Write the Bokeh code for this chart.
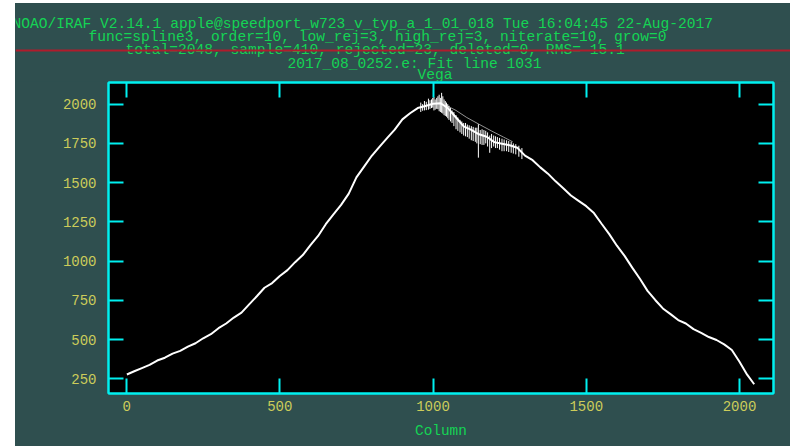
from bokeh.plotting import figure
from bokeh.models import (Range1d, FixedTicker, LinearAxis, Spacer,
                          CustomJSTickFormatter)
from bokeh.layouts import column, row
from bokeh.embed import file_html
from bokeh.resources import INLINE
from bokeh.core.properties import value

# ---- palette -------------------------------------------------------------
SLATE = "#2f4f4f"
GREEN = "#14d454"
YELLOW = "#cccc5a"
CYAN = "#00f0f0"
RED = "#b01c2c"
FONT = "Liberation Mono"

# ---- header text ---------------------------------------------------------
header_lines = [
    "NOAO/IRAF V2.14.1 apple@speedport_w723_v_typ_a_1_01_018 Tue 16:04:45 22-Aug-2017",
    "func=spline3, order=10, low_rej=3, high_rej=3, niterate=10, grow=0",
    "total=2048, sample=410, rejected=23, deleted=0, RMS=   15.1",
    "2017_08_0252.e: Fit line 1031",
    "Vega",
]
# left edge and baseline of each line, in page pixels
header_px = [12, 88, 125, 287, 417]
header_py = [23, 36, 49.5, 63, 74]

# ---- spectrum (column vs counts) -----------------------------------------
col = [1, 25, 50, 75, 100, 125, 150, 175, 200, 225, 250, 275, 300, 325, 350,
       375, 400, 425, 450, 475, 500, 525, 550, 575, 600, 625, 650, 675, 700,
       725, 750, 775, 800, 825, 850, 875, 900, 925, 950, 975, 1000, 1025,
       1050, 1075, 1100, 1125, 1150, 1175, 1200, 1225, 1250, 1275, 1300, 1325,
       1350, 1375, 1400, 1425, 1450, 1475, 1500, 1525, 1550, 1575, 1600, 1625,
       1650, 1675, 1700, 1725, 1750, 1775, 1800, 1825, 1850, 1875, 1900, 1925,
       1950, 1975, 2000, 2025, 2048]
counts = [277, 298, 318, 338, 366, 384, 410, 428, 455, 476,
          508, 534, 572, 602, 640, 671, 724, 776, 830, 860,
          905, 942, 993, 1038, 1101, 1160, 1235, 1298, 1358, 1430,
          1533, 1602, 1671, 1728, 1784, 1838, 1903, 1942, 1975, 1988,
          2003, 2006, 1972, 1915, 1858, 1836, 1808, 1792, 1758, 1748,
          1738, 1722, 1672, 1643, 1597, 1557, 1508, 1464, 1418, 1384,
          1350, 1306, 1238, 1172, 1098, 1033, 958, 887, 810, 752,
          698, 662, 624, 602, 566, 542, 516, 497, 469, 433,
          358, 276, 215]

# noisy pixels around the peak: column, lowest and highest count
spike_col = [960, 966, 972, 978, 985, 990, 995, 999, 1003, 1007, 1012, 1016,
             1020, 1024, 1028, 1032, 1036, 1040, 1044, 1048, 1052, 1057,
             1062, 1068, 1075, 1081, 1088, 1094, 1100, 1106, 1112, 1118,
             1125, 1131, 1138, 1143, 1148, 1154, 1160, 1166, 1172, 1178,
             1185, 1191, 1198, 1204, 1210, 1217, 1225, 1232, 1240, 1247,
             1255, 1262, 1270, 1280, 1290]
spike_lo = [1950, 1958, 1960, 1962, 1965, 1970, 1975, 1978, 1960, 1965, 1970,
            1968, 1955, 1950, 1945, 1940, 1930, 1925, 1920, 1910, 1900, 1890,
            1880, 1860, 1840, 1830, 1820, 1810, 1800, 1795, 1790, 1780,
            1770, 1765, 1760, 1750, 1659, 1745, 1740, 1740, 1750, 1730,
            1690, 1720, 1730, 1720, 1720, 1710, 1700, 1700, 1700, 1695,
            1690, 1685, 1680, 1665, 1650]
spike_hi = [2010, 2000, 2020, 2015, 2035, 2025, 2030, 2040, 2045, 2030, 2040,
            2050, 2060, 2040, 2072, 2050, 2030, 2020, 2010, 2000, 1990, 1975,
            1960, 1950, 1930, 1915, 1900, 1890, 1880, 1880, 1870, 1865,
            1860, 1855, 1850, 1850, 1872, 1835, 1840, 1835, 1830, 1820,
            1800, 1810, 1800, 1795, 1790, 1785, 1780, 1775, 1770, 1765,
            1760, 1750, 1745, 1735, 1720]

# spline fit where it separates from the data
fit_col = [1040, 1075, 1110, 1150, 1190, 1230, 1260]
fit_counts = [1995, 1960, 1915, 1872, 1830, 1790, 1760]

# ---- axes ticks ----------------------------------------------------------
x_ticks = [0, 500, 1000, 1500, 2000]
y_ticks = [250, 500, 750, 1000, 1250, 1500, 1750, 2000]

# ---- geometry (page pixels) ----------------------------------------------
PAGE_LEFT, PAGE_TOP = 15, 3      # white margin round the canvas
HEADER_BOTTOM = 81               # where the title block ends
FRAME_LEFT, FRAME_RIGHT = 108, 773
FRAME_TOP, FRAME_BOTTOM = 82, 393
CANVAS_W = 790 - PAGE_LEFT


def no_frame_align(fig):
    try:
        fig.frame_align = False
    except AttributeError:
        pass


# ---- title block (its data space is the page pixel grid) ------------------
header = figure(width=CANVAS_W, height=HEADER_BOTTOM - PAGE_TOP,
                x_range=Range1d(PAGE_LEFT, 790),
                y_range=Range1d(HEADER_BOTTOM, PAGE_TOP),
                toolbar_location=None, output_backend="svg", min_border=0,
                x_axis_location=None, y_axis_location=None)
no_frame_align(header)
header.styles = {"background-color": SLATE}
header.grid.visible = False
header.outline_line_color = None
header.background_fill_color = SLATE
header.border_fill_color = SLATE
header.text(x=header_px, y=header_py, text=header_lines,
            text_font=value(FONT), text_font_size="14.6px",
            text_color=GREEN, text_align="left", text_baseline="alphabetic")
header.segment(x0=[PAGE_LEFT], y0=[50], x1=[790], y1=[50], line_color=RED,
               line_width=2)

# ---- main plot -----------------------------------------------------------
p = figure(width=CANVAS_W, height=446 - HEADER_BOTTOM,
           x_range=Range1d(-59, 2111), y_range=Range1d(156, 2138),
           toolbar_location=None, output_backend="svg",
           min_border_left=FRAME_LEFT - PAGE_LEFT,
           min_border_right=790 - FRAME_RIGHT,
           min_border_top=FRAME_TOP - HEADER_BOTTOM,
           min_border_bottom=446 - FRAME_BOTTOM)
no_frame_align(p)
p.styles = {"background-color": SLATE}
p.background_fill_color = "black"
p.border_fill_color = SLATE
p.outline_line_color = CYAN
p.outline_line_width = 2
p.grid.visible = False

bottom_axis = p.xaxis[0]
left_axis = p.yaxis[0]
bottom_axis.ticker = FixedTicker(ticks=x_ticks)
left_axis.ticker = FixedTicker(ticks=y_ticks)
bottom_axis.axis_label = "Column"
bottom_axis.axis_label_text_font = FONT
bottom_axis.axis_label_text_font_size = "14.4px"
bottom_axis.axis_label_text_font_style = "normal"
bottom_axis.axis_label_text_color = GREEN
bottom_axis.axis_label_standoff = 9
bottom_axis.major_label_standoff = 7
left_axis.major_label_standoff = 12

# mirrored tick marks on the top and right edges
blank = CustomJSTickFormatter(code="return ''")
top_axis = LinearAxis(ticker=FixedTicker(ticks=x_ticks), formatter=blank)
right_axis = LinearAxis(ticker=FixedTicker(ticks=y_ticks), formatter=blank)
p.add_layout(top_axis, "above")
p.add_layout(right_axis, "right")

for ax in (bottom_axis, left_axis, top_axis, right_axis):
    ax.axis_line_color = CYAN
    ax.axis_line_width = 2
    ax.major_tick_line_color = CYAN
    ax.major_tick_line_width = 2
    ax.major_tick_in = 15
    ax.major_tick_out = 0
    ax.minor_tick_line_color = None
    ax.major_label_text_font = FONT
    ax.major_label_text_font_size = "14px"
    ax.major_label_text_color = YELLOW

for ax in (top_axis, right_axis):
    ax.major_label_text_color = None
    ax.major_label_standoff = 0

p.line(fit_col, fit_counts, line_color="#b8b8b8", line_width=1, line_alpha=0.8)
p.segment(x0=spike_col, y0=spike_lo, x1=spike_col, y1=spike_hi,
          line_color="white", line_width=1)
p.line(col, counts, line_color="white", line_width=2)

layout = column(
    Spacer(width=790, height=PAGE_TOP),
    row(Spacer(width=PAGE_LEFT, height=HEADER_BOTTOM - PAGE_TOP), header),
    row(Spacer(width=PAGE_LEFT, height=446 - HEADER_BOTTOM), p),
)

open("out.html", "w").write(file_html(layout, INLINE))
